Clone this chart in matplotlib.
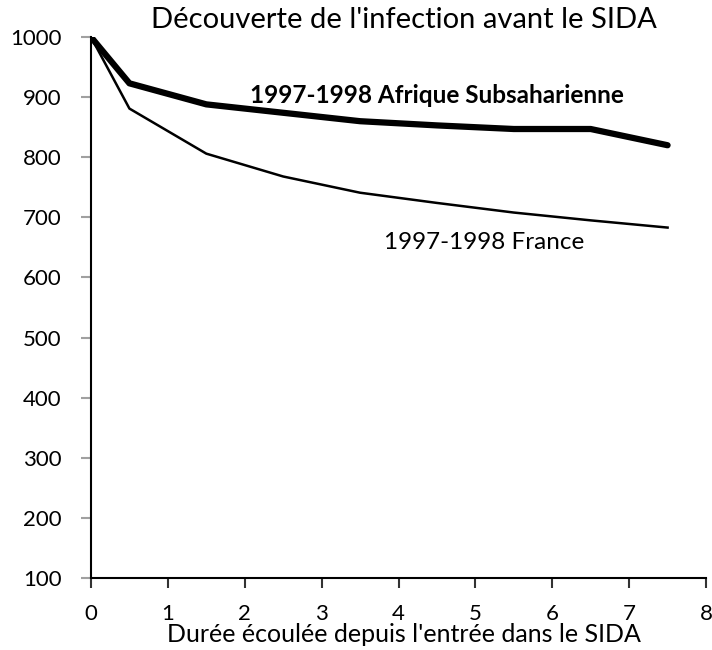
import matplotlib.pyplot as plt

# years since AIDS onset
years = [0, 0.5, 1.5, 2.5, 3.5, 4.5, 5.5, 6.5, 7.5]
afrique = [1000, 923, 888, 874, 860, 853, 847, 847, 820]
france = [1000, 881, 806, 768, 741, 724, 708, 695, 683]

xticks = list(range(0, 9))
yticks = list(range(100, 1001, 100))

plt.rcParams['font.family'] = ['Lato', 'DejaVu Sans']

fig = plt.figure(figsize=(7.12, 6.5), dpi=100)
ax = fig.add_axes([0.1278, 0.1108, 0.8638, 0.8322])

ax.plot(years, afrique, color='black', lw=4.5, solid_capstyle='round', solid_joinstyle='round')
ax.plot(years, france, color='black', lw=1.8, solid_joinstyle='round')

ax.set_xlim(0, 8)
ax.set_ylim(100, 1000)
ax.set_xticks(xticks)
ax.set_yticks(yticks)
ax.tick_params(axis='y', direction='out', length=7, width=1.5, color='#a0a0a0',
               labelsize=16, pad=14)
ax.tick_params(axis='x', direction='out', length=7, width=1.5, color='#333333',
               labelsize=16, pad=12)

for s in ['top', 'right']:
    ax.spines[s].set_visible(False)
for s in ['left', 'bottom']:
    ax.spines[s].set_linewidth(1.5)
    ax.spines[s].set_color('black')

ax.text(4.5, 902, '1997-1998 Afrique Subsaharienne', fontsize=17.5, fontweight='bold',
        ha='center', va='center')
ax.text(5.12, 659, '1997-1998 France', fontsize=17.5, ha='center', va='center')

fig.text(0.567, 0.969, "Découverte de l'infection avant le SIDA", fontsize=21,
         ha='center', va='center')
fig.text(0.5675, 0.024, "Durée écoulée depuis l'entrée dans le SIDA", fontsize=18,
         ha='center', va='center')

fig.savefig('out.png', dpi=100)
